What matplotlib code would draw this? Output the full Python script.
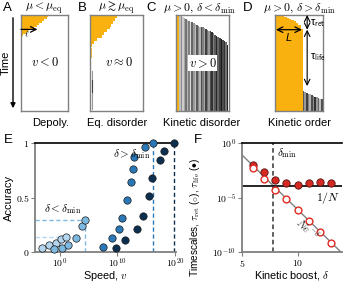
import numpy as np
import matplotlib
matplotlib.use("Agg")
import matplotlib.pyplot as plt

plt.rcParams['font.family'] = ['Liberation Sans', 'DejaVu Sans']
plt.rcParams['mathtext.fontset'] = 'cm'

W, H = 343, 284
ORANGE = '#f8b10f'
FRAME = '#808080'

# ---------------- data ----------------
# Panel A: depolymerising front (row time, orange width)
a_t = [0.00, 0.02, 0.04, 0.06, 0.08, 0.10, 0.12, 0.14, 0.16, 0.18, 0.20, 0.22]
a_w = [0.57, 0.55, 0.50, 0.44, 0.38, 0.33, 0.27, 0.21, 0.15, 0.10, 0.05, 0.02]
# Panel B
b_t = [0.00, 0.03, 0.06, 0.09, 0.12, 0.15, 0.18, 0.21, 0.24, 0.27, 0.30]
b_w = [0.50, 0.48, 0.44, 0.40, 0.37, 0.32, 0.27, 0.22, 0.14, 0.08, 0.03]
# Panel C: bars (top time, grey shade)
c_top = [0.00, 0.01, 0.02, 0.03, 0.04, 0.05, 0.06, 0.07, 0.07, 0.08, 0.09, 0.10, 0.11, 0.12, 0.12, 0.13,
         0.14, 0.15, 0.16, 0.17, 0.17, 0.18, 0.19, 0.21, 0.22, 0.23, 0.24, 0.25, 0.26, 0.27, 0.28, 0.31]
c_shade = [0.75, 0.55, 0.80, 0.65, 0.45, 0.70, 0.50, 0.85, 0.40, 0.60, 0.75, 0.35, 0.55, 0.70, 0.30, 0.50,
           0.65, 0.25, 0.45, 0.60, 0.30, 0.20, 0.50, 0.35, 0.15, 0.40, 0.25, 0.10, 0.30, 0.20, 0.45, 0.15]
# Panel D: orange columns, then grey bars
d_otop = [0.00, 0.00, 0.01, 0.01, 0.02, 0.03, 0.04, 0.05, 0.06, 0.08, 0.10, 0.15]
d_gtop = [0.79, 0.80, 0.81, 0.82, 0.82, 0.83, 0.84, 0.85, 0.85, 0.86, 0.87, 0.88]
d_gshade = [0.35, 0.6, 0.25, 0.5, 0.7, 0.3, 0.55, 0.2, 0.6, 0.4, 0.75, 0.3]

# Panel E: accuracy vs speed (log10 v)
e1_logv = [-3.0, -1.8, -0.62, 0.24, 1.1]
e1_acc = [0.036, 0.06, 0.085, 0.118, 0.14]
e2_logv = [-0.97, 0.36, 1.5, 2.84, 3.83, 4.35]
e2_acc = [0.027, 0.04, 0.067, 0.13, 0.24, 0.29]
e3_logv = [7.47, 9.13, 10.3, 10.76, 11.73, 12.37, 12.67, 12.95, 14.8, 16.13]
e3_acc = [0.05, 0.13, 0.21, 0.31, 0.48, 0.64, 0.76, 0.87, 0.96, 1.0]
e4_logv = [9.77, 11.4, 13.36, 14.4, 15.44, 16.0, 17.4, 18.04, 19.83]
e4_acc = [0.04, 0.11, 0.21, 0.33, 0.51, 0.68, 0.84, 0.93, 1.0]
e_colors = ['#b4d5ee', '#7db8e0', '#2a78b8', '#0d2f4f']

# Panel F
f_delta = [6, 7, 8, 9, 10, 11, 12, 13]
f_log_life = [-2.0, -2.66, -3.42, -3.67, -3.82, -3.70, -3.61, -3.70]
f_log_ret = [-2.33, -3.27, -4.27, -5.18, -6.15, -7.15, -8.15, -9.18]
f_logN = 3.9
f_delta_min = 7.8

fig = plt.figure(figsize=(W / 100, H / 100), dpi=100)


def px_axes(x0, y0, x1, y1):
    return fig.add_axes([x0 / W, 1 - y1 / H, (x1 - x0) / W, (y1 - y0) / H])


def ft(x, y, s, **kw):
    return fig.text(x / W, 1 - y / H, s, **kw)


def box(ax):
    ax.set_xlim(0, 1)
    ax.set_ylim(1, 0)
    ax.set_xticks([])
    ax.set_yticks([])
    for s in ax.spines.values():
        s.set_color(FRAME)
        s.set_linewidth(1.0)


# ---- A ----
axA = px_axes(21, 15, 68, 111)
box(axA)
axA.barh(a_t, a_w, height=0.021, align='edge', color=ORANGE, lw=0)
axA.annotate('', xy=(0.35, 0.15), xytext=(0.0, 0.15),
             arrowprops=dict(arrowstyle='->', lw=0.9, color='k', shrinkA=0, shrinkB=0))
axA.text(0.13, 0.20, r'$\ell$', fontsize=7, ha='center', va='center')
axA.text(0.5, 0.5, r'$v<0$', fontsize=9, ha='center', va='center')

# ---- B ----
axB = px_axes(90, 15, 143, 111)
box(axB)
axB.barh(b_t, b_w, height=0.031, align='edge', color=ORANGE, lw=0)
axB.plot([0.015, 0.015], [0.34, 0.44], color=ORANGE, lw=0.6)
axB.plot([0.03, 0.03], [0.58, 0.98], color='#999999', lw=0.8)
axB.plot([0.035, 0.035], [0.68, 0.80], color='#444444', lw=0.8)
axB.text(0.55, 0.5, r'$v\approx0$', fontsize=9, ha='center', va='center')

# ---- C ----
axC = px_axes(176, 15, 229, 111)
box(axC)
axC.bar([0.0], [1.0], width=0.06, bottom=0, align='edge', color=ORANGE, lw=0)
nc = len(c_top)
cw = (0.985 - 0.06) / nc
cx = [0.06 + i * cw for i in range(nc)]
axC.bar(cx, [1 - t for t in c_top], bottom=c_top, width=cw, align='edge',
        color=[str(s) for s in c_shade], lw=0)
axC.text(0.5, 0.5, r'$v>0$', fontsize=9, ha='center', va='center',
         bbox=dict(facecolor='white', edgecolor='none', pad=0.5))

# ---- D ----
axD = px_axes(275, 15, 323, 111)
box(axD)
no = len(d_otop)
ow = 0.58 / no
axD.bar([i * ow for i in range(no)], [1 - t for t in d_otop], bottom=d_otop, width=ow,
        align='edge', color=ORANGE, lw=0)
ng = len(d_gtop)
gw = (0.99 - 0.58) / ng
axD.bar([0.58 + i * gw for i in range(ng)], [1 - t for t in d_gtop], bottom=d_gtop, width=gw,
        align='edge', color=[str(s) for s in d_gshade], lw=0)
axD.annotate('', xy=(0.02, 0.153), xytext=(0.56, 0.153),
             arrowprops=dict(arrowstyle='<->', lw=0.9, color='k', shrinkA=0, shrinkB=0))
axD.text(0.29, 0.24, 'L', fontsize=8, style='italic', ha='center', va='center')
axD.annotate('', xy=(0.67, 0.0), xytext=(0.67, 0.153),
             arrowprops=dict(arrowstyle='<->', lw=0.8, color='k', shrinkA=0, shrinkB=0))
axD.annotate('', xy=(0.67, 0.153), xytext=(0.67, 0.74),
             arrowprops=dict(arrowstyle='<->', lw=0.8, color='k', shrinkA=0, shrinkB=0))
axD.text(0.72, 0.08, r'τ$_{\mathsf{ret}}$', fontsize=8, ha='left', va='center', clip_on=False)
axD.text(0.72, 0.44, r'τ$_{\mathsf{life}}$', fontsize=8, ha='left', va='center', clip_on=False)

# titles & labels top row
for lx, letter, mx, math in [(7, 'A', 44, r'$\mu<\mu_{\rm eq}$'),
                              (82, 'B', 116, r'$\mu\gtrsim\mu_{\rm eq}$'),
                              (151, 'C', 199, r'$\mu>0,\,\delta<\delta_{\rm min}$'),
                              (248, 'D', 299, r'$\mu>0,\,\delta>\delta_{\rm min}$')]:
    ft(lx, 8, letter, fontsize=9.5, ha='center', va='center')
    ft(mx, 8, math, fontsize=8.5, ha='center', va='center')

for cxp, lab in [(51, 'Depoly.'), (117, 'Eq. disorder'), (202, 'Kinetic disorder'), (300, 'Kinetic order')]:
    ft(cxp, 123, lab, fontsize=8, ha='center', va='center')

fig.add_artist(matplotlib.patches.FancyArrowPatch((13 / W, 1 - 15 / H), (13 / W, 1 - 111 / H),
                                                  transform=fig.transFigure, arrowstyle='-|>',
                                                  mutation_scale=7, lw=1.0, color='k'))
ft(6, 63, 'Time', fontsize=8, rotation=90, ha='center', va='center')

# ---- E ----
axE = px_axes(35, 143, 176, 252)
axE.set_xscale('log')
axE.set_xlim(10 ** -4.26, 10 ** 20.2)
axE.set_ylim(0, 1)
groups = [(e1_logv, e1_acc), (e2_logv, e2_acc), (e3_logv, e3_acc), (e4_logv, e4_acc)]
for (lv, acc), col in zip(groups, e_colors):
    v = 10.0 ** np.array(lv)
    i = int(np.argmax(acc))
    axE.plot([v[i], v[i]], [0, acc[i]], ls='--', color=col, lw=1.0, dashes=(3, 2), zorder=1)
    if acc[i] < 1:
        axE.plot([10 ** -4.26, v[i]], [acc[i], acc[i]], ls='--', color=col, lw=1.0, dashes=(3, 2), zorder=1)
    axE.scatter(v, acc, s=28, color=col, edgecolor='#1a1a1a', linewidth=0.5, zorder=3, clip_on=False)
axE.spines['right'].set_visible(False)
axE.spines['top'].set_color('k')
axE.spines['top'].set_linewidth(1.2)
for s in ['left', 'bottom']:
    axE.spines[s].set_color(FRAME)
    axE.spines[s].set_linewidth(1.3)
axE.set_xticks([1, 1e10, 1e20])
axE.set_xticklabels([r'$10^{0}$', r'$10^{10}$', r'$10^{20}$'])
axE.xaxis.set_minor_locator(matplotlib.ticker.NullLocator())
axE.set_yticks([0, 0.5, 1])
axE.set_yticklabels([r'$0$', r'$0.5$', r'$1$'])
axE.tick_params(labelsize=7, length=3, color=FRAME, pad=1)
axE.tick_params(axis='x', pad=0.5)
axE.set_xlabel(r'Speed, $v$', fontsize=7.8, va='center')
axE.xaxis.set_label_coords(0.5, -0.222)
axE.set_ylabel('Accuracy', fontsize=8, labelpad=1)
axE.text(10 ** 12.5, 0.9, r'$\delta>\delta_{\rm min}$', fontsize=8, ha='center', va='center')
axE.text(10 ** 0.5, 0.39, r'$\delta<\delta_{\rm min}$', fontsize=8, ha='center', va='center')
ft(8, 140, 'E', fontsize=9.5, ha='center', va='center')

# ---- F ----
axF = px_axes(242, 143, 342, 252)
axF.set_yscale('log')
axF.set_xlim(5, 14)
axF.set_ylim(1e-10, 1)
dl = np.array([5.0, 14.0])
axF.plot(dl, 10.0 ** (f_logN - dl), color='#808080', lw=1.0, zorder=1)
axF.axhline(10.0 ** (-f_logN), color='k', lw=1.2, zorder=1)
axF.axvline(f_delta_min, color='#333333', lw=1.1, ls='--', dashes=(3, 2), zorder=1)
axF.scatter(f_delta, 10.0 ** np.array(f_log_life), s=28, color='#d42a22', edgecolor='#551111',
            linewidth=0.6, zorder=3)
axF.scatter(f_delta, 10.0 ** np.array(f_log_ret), s=24, facecolor='white', edgecolor='#e02a22',
            linewidth=1.0, zorder=3)
axF.spines['right'].set_visible(False)
axF.spines['top'].set_color('k')
axF.spines['top'].set_linewidth(1.2)
for s in ['left', 'bottom']:
    axF.spines[s].set_color(FRAME)
    axF.spines[s].set_linewidth(1.3)
axF.set_xticks([5, 10])
axF.set_xticklabels([r'$5$', r'$10$'])
axF.set_yticks([1, 1e-5, 1e-10])
axF.set_yticklabels([r'$10^{0}$', r'$10^{-5}$', r'$10^{-10}$'])
axF.yaxis.set_minor_locator(matplotlib.ticker.NullLocator())
axF.tick_params(labelsize=7, length=3, color=FRAME, pad=1)
axF.set_xlabel(r'Kinetic boost, $\delta$', fontsize=7.8, va='center')
axF.xaxis.set_label_coords(0.5, -0.215)
axF.set_ylabel(r'Timescales, $\tau_{\rm ret}$ ($\circ$), $\tau_{\rm life}$ ($\bullet$)', fontsize=7.2,
               labelpad=1)
axF.yaxis.set_label_coords(-0.40, 0.32)
axF.text(8.15, 10 ** -0.9, r'$\delta_{\rm min}$', fontsize=8, ha='left', va='center')
axF.text(13.8, 10 ** -5.0, r'$1/N$', fontsize=8.5, ha='right', va='center')
axF.text(10.9, 10 ** -7.9, r'$Ne^{-\delta}$', fontsize=8, ha='center', va='center', rotation=-45,
         color='#333333')
ft(198, 140, 'F', fontsize=9.5, ha='center', va='center')

fig.savefig('out.png', dpi=100)
